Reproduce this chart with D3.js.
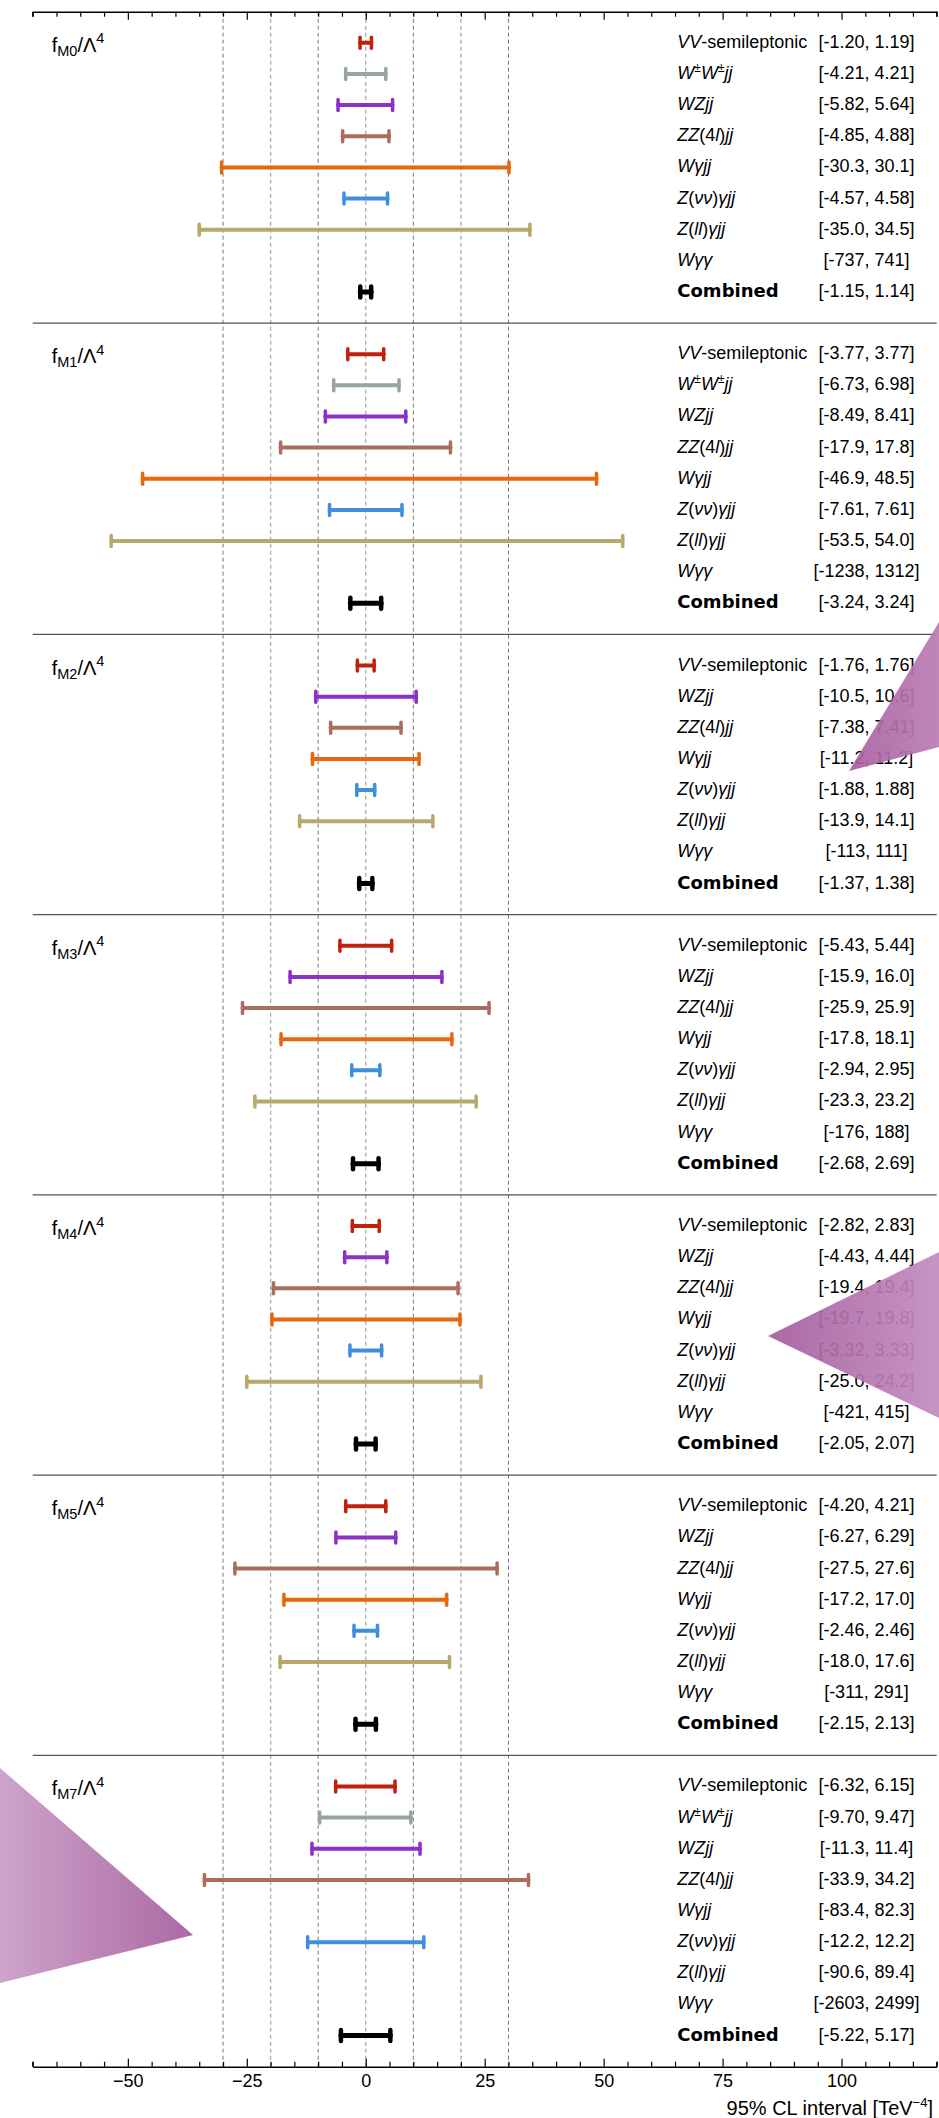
<!DOCTYPE html>
<html>
<head>
<meta charset="utf-8">
<script src="https://cdn.jsdelivr.net/npm/d3@7"></script>
<style>
  html, body { margin: 0; padding: 0; background: #fff; }
  svg { display: block; }
  .axis text { font-family: "Liberation Sans", Arial, Helvetica, sans-serif; font-size: 18px; fill: #000; }
  .axis path, .axis line { stroke: #000; }
</style>
</head>
<body>
<svg id="chart" width="939" height="2118"></svg>
<script>
// ---- Data: 95% CL intervals per operator and channel [TeV^-4] ----
const operators = ["M0", "M1", "M2", "M3", "M4", "M5", "M7"];

const channelsM0 = ["VV", "WW", "WZ", "ZZ", "Wgjj", "Znngjj", "Zllgjj", "Wgg", "Comb"];
const lowM0  = [-1.20, -4.21, -5.82, -4.85, -30.3, -4.57, -35.0, -737, -1.15];
const highM0 = [ 1.19,  4.21,  5.64,  4.88,  30.1,  4.58,  34.5,  741,  1.14];

const channelsM1 = ["VV", "WW", "WZ", "ZZ", "Wgjj", "Znngjj", "Zllgjj", "Wgg", "Comb"];
const lowM1  = [-3.77, -6.73, -8.49, -17.9, -46.9, -7.61, -53.5, -1238, -3.24];
const highM1 = [ 3.77,  6.98,  8.41,  17.8,  48.5,  7.61,  54.0,  1312,  3.24];

const channelsM2 = ["VV", "WZ", "ZZ", "Wgjj", "Znngjj", "Zllgjj", "Wgg", "Comb"];
const lowM2  = [-1.76, -10.5, -7.38, -11.2, -1.88, -13.9, -113, -1.37];
const highM2 = [ 1.76,  10.6,  7.41,  11.2,  1.88,  14.1,  111,  1.38];

const channelsM3 = ["VV", "WZ", "ZZ", "Wgjj", "Znngjj", "Zllgjj", "Wgg", "Comb"];
const lowM3  = [-5.43, -15.9, -25.9, -17.8, -2.94, -23.3, -176, -2.68];
const highM3 = [ 5.44,  16.0,  25.9,  18.1,  2.95,  23.2,  188,  2.69];

const channelsM4 = ["VV", "WZ", "ZZ", "Wgjj", "Znngjj", "Zllgjj", "Wgg", "Comb"];
const lowM4  = [-2.82, -4.43, -19.4, -19.7, -3.32, -25.0, -421, -2.05];
const highM4 = [ 2.83,  4.44,  19.4,  19.8,  3.33,  24.2,  415,  2.07];

const channelsM5 = ["VV", "WZ", "ZZ", "Wgjj", "Znngjj", "Zllgjj", "Wgg", "Comb"];
const lowM5  = [-4.20, -6.27, -27.5, -17.2, -2.46, -18.0, -311, -2.15];
const highM5 = [ 4.21,  6.29,  27.6,  17.0,  2.46,  17.6,  291,  2.13];

const channelsM7 = ["VV", "WW", "WZ", "ZZ", "Wgjj", "Znngjj", "Zllgjj", "Wgg", "Comb"];
const lowM7  = [-6.32, -9.70, -11.3, -33.9, -83.4, -12.2, -90.6, -2603, -5.22];
const highM7 = [ 6.15,  9.47,  11.4,  34.2,  82.3,  12.2,  89.4,  2499,  5.17];

// Axis ticks
const majorTicks = [-50, -25, 0, 25, 50, 75, 100];
const minorTicks = d3.range(-70, 121, 5).filter(v => v % 25 !== 0);
const gridValues = [-30, -20, -10, 0, 10, 20, 30];

// Channel appearance
const channelColor = {
  VV: "#c2200c", WW: "#97a5a1", WZ: "#8a31c6", ZZ: "#a96d5e",
  Wgjj: "#e8660c", Znngjj: "#3f8fdc", Zllgjj: "#b8a86c", Wgg: "#2f9e44", Comb: "#000000"
};
// label pieces: [text, style]  (i = italic, n = normal, sup = superscript, b = bold)
const channelText = {
  VV:     [["VV", "i"], ["-semileptonic", "n"]],
  WW:     [["W", "i"], ["±", "sup"], ["W", "i"], ["±", "sup"], ["jj", "i"]],
  WZ:     [["WZjj", "i"]],
  ZZ:     [["ZZ", "i"], ["(4", "n"], ["l", "i"], [")", "n"], ["jj", "i"]],
  Wgjj:   [["Wγjj", "i"]],
  Znngjj: [["Z", "i"], ["(", "n"], ["νν", "i"], [")", "n"], ["γjj", "i"]],
  Zllgjj: [["Z", "i"], ["(", "n"], ["ll", "i"], [")", "n"], ["γjj", "i"]],
  Wgg:    [["Wγγ", "i"]],
  Comb:   [["Combined", "b"]]
};

const panelData = [
  ["M0", channelsM0, lowM0, highM0],
  ["M1", channelsM1, lowM1, highM1],
  ["M2", channelsM2, lowM2, highM2],
  ["M3", channelsM3, lowM3, highM3],
  ["M4", channelsM4, lowM4, highM4],
  ["M5", channelsM5, lowM5, highM5],
  ["M7", channelsM7, lowM7, highM7]
];
const panels = panelData.map(([op, ch, lo, hi]) =>
  ({ op, rows: ch.map((c, i) => ({ ch: c, lo: lo[i], hi: hi[i] })) }));

// ---- Layout ----
const svg = d3.select("#chart");
const sansFont = '"Liberation Sans", Arial, Helvetica, sans-serif';

const x = d3.scaleLinear().domain([-70, 120]).range([32.7, 936.7]);

let slotCount = 0;
panels.forEach(p => { p.start = slotCount; slotCount += p.rows.length + 1; p.end = slotCount; });
const ySlot = d3.scaleLinear().domain([0, slotCount]).range([11.7, 2066.7]);
const yTop = ySlot(0), yBottom = ySlot(slotCount);

// ---- Dashed reference lines ----
svg.append("g").selectAll("line").data(gridValues).join("line")
  .attr("x1", d => x(d)).attr("x2", d => x(d))
  .attr("y1", yTop).attr("y2", yBottom)
  .attr("stroke", d => (Math.abs(d) % 20 === 10 ? "#777" : "#aaa"))
  .attr("stroke-width", d => (Math.abs(d) % 20 === 10 ? 1 : 1.3))
  .attr("stroke-dasharray", "4,3");

// ---- Panel separators ----
svg.append("g").selectAll("line").data(panels.slice(0, -1)).join("line")
  .attr("x1", x(-70)).attr("x2", x(120))
  .attr("y1", p => ySlot(p.end)).attr("y2", p => ySlot(p.end))
  .attr("stroke", "#555").attr("stroke-width", 1.3);

// ---- Axes (bottom labelled, top mirrored) ----
const bottomAxis = svg.append("g").attr("class", "axis").attr("transform", `translate(0,${yBottom})`);
bottomAxis.call(d3.axisBottom(x).tickValues(majorTicks).tickSize(-8).tickSizeOuter(0).tickPadding(8));
bottomAxis.append("g").call(d3.axisBottom(x).tickValues(minorTicks).tickSize(-5).tickSizeOuter(0).tickFormat(""))
  .select(".domain").remove();

const topAxis = svg.append("g").attr("class", "axis").attr("transform", `translate(0,${yTop})`);
topAxis.call(d3.axisTop(x).tickValues(majorTicks).tickSize(-8).tickSizeOuter(0).tickFormat(""));
topAxis.append("g").call(d3.axisTop(x).tickValues(minorTicks).tickSize(-5).tickSizeOuter(0).tickFormat(""))
  .select(".domain").remove();

[bottomAxis, topAxis].forEach(g => {
  g.selectAll("path.domain").attr("stroke-width", 1.4);
  g.selectAll(".tick line").attr("stroke-width", 1.2);
});

// end ticks at both ends of each axis
[[bottomAxis, -5], [topAxis, 5]].forEach(([g, len]) => {
  [x(-70), x(120)].forEach(px => g.append("line").attr("x1", px).attr("x2", px)
    .attr("y1", 0).attr("y2", len).attr("stroke", "#000").attr("stroke-width", 1.2));
});

// axis title
const xt = svg.append("text").attr("x", 933).attr("y", 2114.5)
  .attr("text-anchor", "end").attr("font-family", sansFont).attr("font-size", 20).attr("fill", "#000");
xt.append("tspan").text("95% CL interval [TeV");
xt.append("tspan").attr("font-size", 13).attr("dy", -8).text("−4");
xt.append("tspan").attr("dy", 8).text("]");

// ---- Panels ----
const fmt = v => (Math.abs(v) >= 1000 ? String(Math.round(v)) : v.toPrecision(3));
const inRange = r => r.lo >= x.domain()[0] && r.hi <= x.domain()[1];

panels.forEach(p => {
  const g = svg.append("g");
  const rowY = i => ySlot(p.start + i + 1);

  // operator label f_Mx/Λ^4
  const lab = g.append("text").attr("x", 51.7).attr("y", rowY(0) + 9)
    .attr("font-family", sansFont).attr("font-size", 20).attr("fill", "#000");
  lab.append("tspan").text("f");
  lab.append("tspan").attr("font-size", 14.5).attr("dy", 4).text(p.op);
  lab.append("tspan").attr("dy", -4).text("/Λ");
  lab.append("tspan").attr("font-size", 14.5).attr("dy", -8.5).text("4");

  // interval bars
  const bars = g.selectAll("g.bar").data(p.rows.filter(inRange)).join("g").attr("class", "bar")
    .attr("transform", d => `translate(0,${rowY(p.rows.indexOf(d))})`)
    .attr("stroke", d => channelColor[d.ch]).attr("stroke-linecap", "round");
  bars.append("line")
    .attr("x1", d => x(d.lo)).attr("x2", d => x(d.hi)).attr("y1", 0).attr("y2", 0)
    .attr("stroke-width", d => d.ch === "Comb" ? 5 : 4);
  bars.selectAll("line.cap").data(d => [d.lo, d.hi].map(v => ({ v, comb: d.ch === "Comb" }))).join("line")
    .attr("class", "cap")
    .attr("x1", c => x(c.v)).attr("x2", c => x(c.v))
    .attr("y1", -5.5).attr("y2", 5.5)
    .attr("stroke-width", c => c.comb ? 4.5 : 3.5);

  // channel names and interval values
  p.rows.forEach((r, i) => {
    const t = g.append("text").attr("x", 677.3).attr("y", rowY(i) + 5)
      .attr("font-family", sansFont).attr("font-size", 18).attr("fill", "#000");
    let shift = 0;
    channelText[r.ch].forEach(([s, st]) => {
      const ts = t.append("tspan").text(s);
      if (st === "i") ts.attr("font-style", "italic");
      if (st === "b") ts.attr("font-weight", "bold").attr("font-family", '"DejaVu Sans", Verdana, sans-serif');
      if (st === "sup") { ts.attr("font-size", 12).attr("dy", -7); shift = 7; }
      else if (shift) { ts.attr("dy", shift); shift = 0; }
    });
    g.append("text").attr("x", 866.5).attr("y", rowY(i) + 5)
      .attr("text-anchor", "middle").attr("font-family", sansFont).attr("font-size", 18).attr("fill", "#000")
      .text(`[${fmt(r.lo)}, ${fmt(r.hi)}]`);
  });
});

// ---- Translucent overlay wedges ----
const defs = svg.append("defs");
const wedges = [
  { id: "w1", pts: [[849, 771], [939, 622], [939, 747]], from: "#a95f9f", to: "#b97cb3" },
  { id: "w2", pts: [[768, 1336], [939, 1252], [939, 1418]], from: "#a55c9c", to: "#c28bbf" },
  { id: "w3", pts: [[0, 1768], [193, 1935], [0, 1983]], from: "#c99cc7", to: "#a55c9c" }
];
wedges.forEach(w => {
  const lg = defs.append("linearGradient").attr("id", w.id)
    .attr("x1", 0).attr("x2", 1).attr("y1", 0).attr("y2", 0);
  lg.append("stop").attr("offset", 0).attr("stop-color", w.from);
  lg.append("stop").attr("offset", 1).attr("stop-color", w.to);
  svg.append("polygon").attr("points", w.pts.map(q => q.join(",")).join(" "))
    .attr("fill", `url(#${w.id})`).attr("fill-opacity", 0.92);
});
</script>
</body>
</html>
